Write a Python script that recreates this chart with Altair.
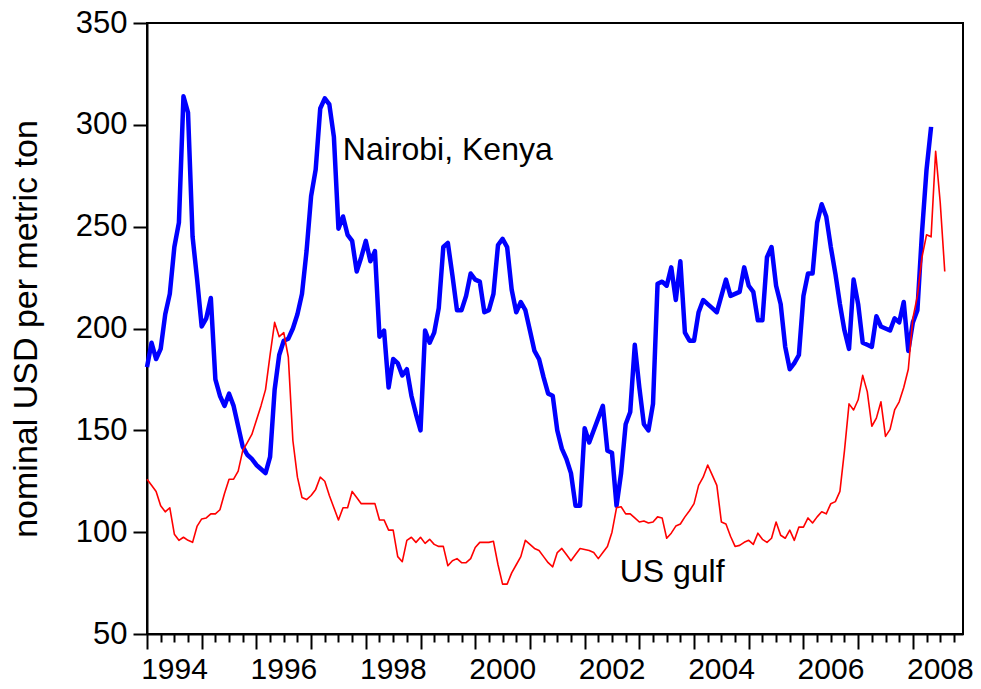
import altair as alt
import pandas as pd

# Monthly prices, Jan 1994 onwards (nominal USD per metric ton)
nairobi = [
    181, 193, 185, 190, 207, 217, 240, 252, 314, 306, 245, 224,   # 1994
    201, 205, 215, 175, 167, 162, 168, 162, 152, 142, 138, 136,   # 1995
    133, 131, 129, 137, 170, 187, 194, 195, 200, 207, 217, 238,   # 1996
    265, 278, 308, 313, 310, 294, 249, 255, 246, 243, 228, 235,   # 1997
    243, 233, 238, 196, 199, 171, 185, 183, 177, 180, 167, 158,   # 1998
    150, 199, 193, 198, 210, 240, 242, 226, 209, 209, 216, 227,   # 1999
    224, 223, 208, 209, 217, 241, 244, 240, 219, 208, 213, 209,   # 2000
    199, 189, 185, 176, 168, 167, 150, 141, 136, 129, 113, 113,   # 2001
    151, 144, 150, 156, 162, 140, 139, 113, 129, 153, 159, 192,   # 2002
    171, 153, 150, 163, 222, 223, 221, 230, 214, 233, 198, 194,   # 2003
    194, 208, 214, 212, 210, 208, 216, 224, 216, 217, 218, 230,   # 2004
    221, 218, 204, 204, 235, 240, 221, 212, 191, 180, 183, 187,   # 2005
    216, 227, 227, 252, 261, 255, 240, 227, 212, 199, 190, 224,   # 2006
    212, 193, 192, 191, 206, 201, 200, 199, 205, 203, 213, 189,   # 2007
    203, 209, 247, 278, 299,                                      # 2008
]

us_gulf = [
    126, 123, 120, 113, 110, 112, 99, 96, 97.5, 96, 95, 103,                # 1994
    106.5, 107, 109, 109, 111, 119, 126, 126, 130, 140, 144, 148,           # 1995
    155, 162, 170, 187, 203, 196, 198, 186, 145, 127, 117, 116,             # 1996
    118, 121, 127, 125, 118, 112, 106, 112, 112, 120, 117, 114,             # 1997
    114, 114, 114, 106, 106, 101, 101, 88, 85.5, 96, 97.5, 95,              # 1998
    97.5, 94.5, 96.5, 94, 93, 93, 83.5, 86, 87, 85, 85, 87,                 # 1999
    92.5, 95, 95, 95, 95.5, 84, 74.5, 74.5, 80, 84, 88, 96,                 # 2000
    94, 92, 91, 88, 85, 83, 90, 92, 89, 86, 89, 92,                         # 2001
    91.5, 91, 90, 87, 90, 93, 100, 112, 112.5, 109, 109, 107,               # 2002
    105, 105.5, 104.5, 105, 107.5, 107, 97, 99.5, 103, 104, 107.5, 110.5,   # 2003
    114, 123, 127, 133, 128, 123, 105, 104, 98, 93, 93.5, 95,               # 2004
    96, 94, 99.5, 96.5, 95, 97, 105, 98.5, 97, 101, 96, 102.5,              # 2005
    102.5, 107, 104.5, 107.5, 110, 109, 114, 115, 120, 140, 163, 160,       # 2006
    165, 177, 169, 152, 156, 164, 147, 150.5, 160, 164, 171, 180,           # 2007
    205, 216, 235, 246, 245, 287, 262, 228,                                 # 2008
]

start_year = 1994
x_domain = [1994, 2008 + 11 / 12]
y_domain = [50, 350]
y_ticks = [50, 100, 150, 200, 250, 300, 350]
quarter_ticks = [1994 + q / 4 for q in range(60)]

annot_text = ["Nairobi, Kenya", "US gulf"]
annot_t = [1997.58, 2002.64]
annot_v = [282.5, 75.5]

FONT = "Liberation Sans"

df_n = pd.DataFrame({"t": [start_year + i / 12 for i in range(len(nairobi))], "v": nairobi})
df_u = pd.DataFrame({"t": [start_year + i / 12 for i in range(len(us_gulf))], "v": us_gulf})
df_a = pd.DataFrame({"t": annot_t, "v": annot_v, "label": annot_text})

x_scale = alt.Scale(domain=x_domain, nice=False, zero=False)
y_scale = alt.Scale(domain=y_domain, nice=False, zero=False)

x_axis = alt.Axis(
    values=quarter_ticks,
    tickSize={"condition": {"test": "datum.value % 1 === 0", "value": 15}, "value": 8},
    labelExpr="datum.value % 2 === 0 ? format(datum.value, 'd') : ''",
    labelOffset=27,
    labelFont=FONT,
    labelFontSize=30,
    labelColor="black",
    labelPadding=5,
    labelOverlap=False,
    labelBound=False,
    labelFlush=False,
    domainColor="black",
    domainWidth=2,
    tickColor="black",
    tickWidth=2,
    grid=False,
    title=None,
)

y_axis = alt.Axis(
    values=y_ticks,
    tickSize=14,
    labelFont=FONT,
    labelFontSize=31,
    labelColor="black",
    labelPadding=6,
    labelOverlap=False,
    labelBound=False,
    labelFlush=False,
    domainColor="black",
    domainWidth=2,
    tickColor="black",
    tickWidth=2,
    grid=False,
    title="nominal USD per metric ton",
    titleFont=FONT,
    titleFontSize=34,
    titleFontWeight="normal",
    titleColor="black",
    titlePadding=32,
)

x_enc = alt.X("t:Q", scale=x_scale, axis=x_axis)
y_enc = alt.Y("v:Q", scale=y_scale, axis=y_axis)

blue = alt.Chart(df_n).mark_line(color="#0000FF", strokeWidth=4.5, strokeJoin="round").encode(
    x=x_enc, y=y_enc
)
red = alt.Chart(df_u).mark_line(color="#FF0000", strokeWidth=1.6, strokeJoin="round").encode(
    x=x_enc, y=y_enc
)
labels = alt.Chart(df_a).mark_text(
    align="left", baseline="alphabetic", font=FONT, fontSize=32, color="black"
).encode(x=x_enc, y=y_enc, text="label:N")

chart = (
    alt.layer(blue, red, labels)
    .properties(
        width=816,
        height=611,
        autosize=alt.AutoSizeParams(type="none"),
        padding={"left": 139, "top": 15, "right": 10, "bottom": 47},
        background="white",
    )
    .configure_view(stroke="black", strokeWidth=2)
)

chart.save("out.html", embed_options={"renderer": "svg", "actions": False})
